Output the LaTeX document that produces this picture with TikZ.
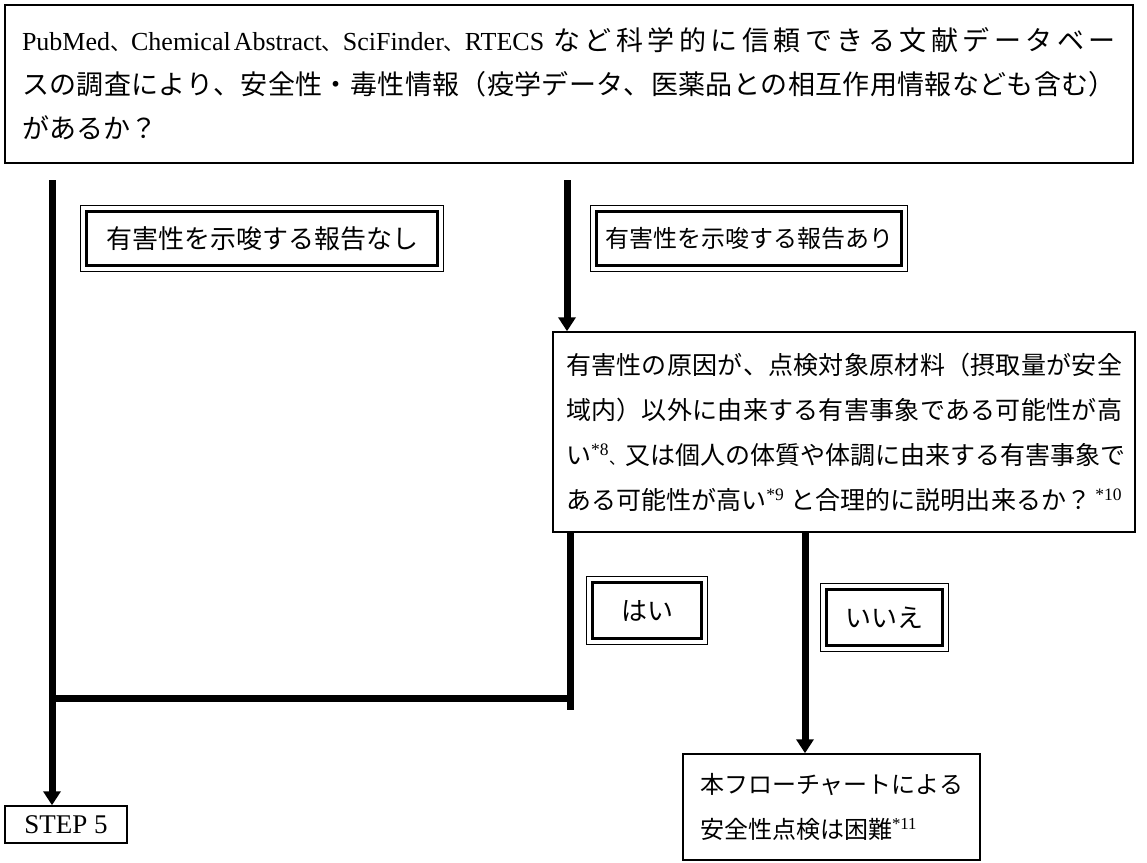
\documentclass[tikz,border=0pt]{standalone}
\usepackage{fontspec}
\setmainfont{Liberation Serif}
\newfontfamily\jp{Noto Sans CJK JP}
\newcommand\noteMark[1]{{\rmfamily\textsuperscript{#1}}}
\newcommand\jcomma{{\fontsize{21}{21}\selectfont\jp 、}}
% spread the characters of one line evenly
\def\spreadStep#1{\ifx#1\relax\unskip\else#1\hskip 0pt plus 1fil\expandafter\spreadStep\fi}
\newcommand\spreadOut[1]{\spreadStep#1\relax}
\usetikzlibrary{arrows.meta}

\begin{document}
\begin{tikzpicture}[x=1pt, y=-1pt,
            plainBox/.style={draw, line width=1.5pt, align=left},
            doubleBox/.style={draw, line width=2.5pt, inner sep=0pt, font=\fontsize{26}{30}\selectfont\jp},
            outerLine/.style={draw, line width=1pt},
            flowLine/.style={line width=7pt},
            flowArrow/.style={line width=7pt, -{Triangle[length=14pt, width=17pt]}}]

            \useasboundingbox (0,0) rectangle (1147,862);

            % question boxes
            \node [plainBox, text width=1094pt, inner xsep=17pt, minimum height=158pt,
                   font=\fontsize{27}{44}\selectfont] (dbQuery) at (569,84)
            {\makebox[1094pt][s]{{\fontsize{26}{44}\selectfont PubMed\jcomma Chemical\hspace{3pt}Abstract\jcomma SciFinder\jcomma RTECS}\hspace{9pt}{\jp\spreadOut{など科学的に信頼できる文献データベー}}}\\
             \makebox[1094pt][s]{\jp\spreadOut{スの調査により、安全性・毒性情報（疫学データ、医薬品との相互作用情報なども含む）}}\\
             {\jp があるか？}};

            \node [plainBox, text width=556pt, inner xsep=13pt, minimum height=200pt,
                   font=\fontsize{25}{45}\selectfont\jp] (causeCheck) at (844,432)
            {\makebox[556pt][s]{\spreadOut{有害性の原因が、点検対象原材料（摂取量が安全}}\\
             \makebox[556pt][s]{\spreadOut{域内）以外に由来する有害事象である可能性が高}}\\
             \makebox[556pt][s]{い\noteMark{*8}{\fontsize{16}{16}\selectfont 、}\spreadOut{又は個人の体質や体調に由来する有害事象で}}\\
             \makebox[556pt][s]{\spreadOut{ある可能性が高い}\noteMark{*9}\hskip 6pt plus 1fil\spreadOut{と合理的に説明出来るか？}\hskip 4pt plus 1fil\noteMark{*10}}};

            \node [plainBox, text width=263pt, inner xsep=17pt, minimum height=106pt,
                   font=\fontsize{24}{45}\selectfont\jp] (hardCheck) at (831.5,807)
            {本フローチャートによる\\安全性点検は困難\noteMark{*11}};

            \node [plainBox, align=center, minimum width=122pt, minimum height=37pt, inner sep=0pt,
                   font=\fontsize{27}{30}\selectfont] (stepFive) at (66,824.5) {STEP 5};

            % branch labels
            \node [doubleBox, minimum width=351pt, minimum height=54pt] (noReport) at (262,238.5) {有害性を示唆する報告なし};
            \node [doubleBox, minimum width=305pt, minimum height=54pt, font=\fontsize{24}{30}\selectfont\jp] (yesReport) at (749,238.5) {有害性を示唆する報告あり};
            \node [doubleBox, minimum width=109pt, minimum height=56pt] (yesLabel) at (647,610.5) {はい};
            \node [doubleBox, minimum width=116pt, minimum height=56pt] (noLabel) at (884.5,617.5) {いいえ};

            \foreach \n in {noReport, yesReport, yesLabel, noLabel}
                \draw [outerLine] ([shift={(-4.5pt,-4.5pt)}]\n.south west) rectangle ([shift={(4.5pt,4.5pt)}]\n.north east);

            % flow lines
            \coordinate (leftTop) at (52,180);
            \coordinate (midTop) at (567,180);
            \coordinate (joinLow) at (570,710);
            \coordinate (joinLeft) at (52,698);
            \coordinate (noTop) at (805,533);

            \draw [flowArrow] (leftTop) -- (leftTop |- stepFive.north);
            \draw [flowArrow] (midTop) -- (midTop |- causeCheck.north);
            \draw [flowLine] (causeCheck.south -| joinLow) -- (joinLow);
            \draw [flowLine] (joinLeft) -- (joinLeft -| joinLow);
            \draw [flowArrow] (noTop) -- (noTop |- hardCheck.north);
\end{tikzpicture}
\end{document}
